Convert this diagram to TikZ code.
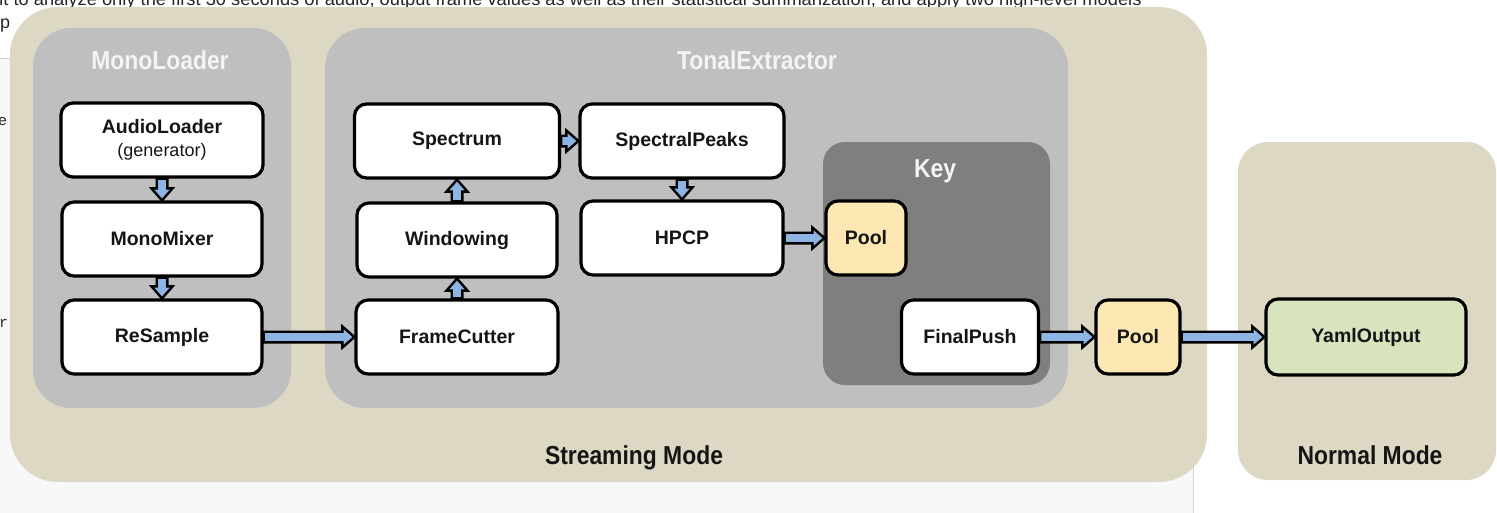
\documentclass[tikz,border=0pt]{standalone}
\usepackage{fontspec}
\setmainfont{Liberation Sans}
\setmonofont{Liberation Mono}
\newfontfamily\headfont[FakeStretch=0.88]{Liberation Sans}
\usetikzlibrary{calc}

\definecolor{modetan}{HTML}{DDD8C3}
\definecolor{groupgray}{HTML}{BFBFBF}
\definecolor{keygray}{HTML}{7F7F7F}
\definecolor{poolfill}{HTML}{FDE8B3}
\definecolor{outfill}{HTML}{D7E4BD}
\definecolor{flowblue}{HTML}{8EB4E3}
\definecolor{pagegray}{HTML}{F8F8F8}
\definecolor{pageline}{HTML}{D2D2D2}
\definecolor{inkdark}{HTML}{151515}
\definecolor{titlewhite}{HTML}{F4F4F4}

\begin{document}
\begin{tikzpicture}[x=1pt,y=-1pt,
  algo/.style={draw=black, line width=3.2pt, rounded corners=12pt, fill=white,
    font=\fontsize{19.5}{24}\selectfont\bfseries, text=inkdark, align=center,
    inner sep=0pt, minimum height=74pt},
  poolbox/.style={algo, fill=poolfill},
  outbox/.style={algo, fill=outfill},
  grouptitle/.style={anchor=base, inner sep=0pt, text=titlewhite,
    font=\headfont\fontsize{26}{29}\selectfont\bfseries},
  modetitle/.style={grouptitle, text=inkdark},
  flow/.style={draw=black, line width=2.4pt, fill=flowblue, line join=miter,
    to path={
      ($(\tikztotarget)!12pt!(\tikztostart)$) coordinate (flowbase)
      ($(\tikztostart)!5.3pt!90:(\tikztotarget)$)
      -- ($(flowbase)!5.3pt!-90:(\tikztostart)$)
      -- ($(flowbase)!10.5pt!-90:(\tikztostart)$)
      -- (\tikztotarget)
      -- ($(flowbase)!10.5pt!90:(\tikztostart)$)
      -- ($(flowbase)!5.3pt!90:(\tikztostart)$)
      -- ($(\tikztostart)!5.3pt!-90:(\tikztotarget)$)
      -- cycle}},
  pagetext/.style={inner sep=0pt, anchor=base west, text=black!85}
]
\useasboundingbox (0,0) rectangle (1497,512);
\fill[white] (0,0) rectangle (1497,512);

% page behind the figure
\node[pagetext, font=\fontsize{18.3}{22}\selectfont] (introline) at (-7,5)
  {nt to analyze only the first 30 seconds of audio, output frame values as well as their statistical summarization, and apply two high-level models};
\node[pagetext, font=\fontsize{18}{22}\selectfont] (introwrap) at (0,28.5) {p};
\filldraw[fill=pagegray, draw=pageline, line width=1pt] (-5,58) rectangle (1193,530);
\node[pagetext, font=\ttfamily\fontsize{15}{18}\selectfont] (codee) at (-2,125) {e};
\node[pagetext, font=\ttfamily\fontsize{15}{18}\selectfont] (coder) at (-1,327) {r};

% execution modes
\fill[modetan, rounded corners=48pt] (10,7) rectangle (1207,482);
\fill[modetan, rounded corners=30pt] (1238,142) rectangle (1496,480);

% composite algorithms
\fill[groupgray, rounded corners=38pt] (33,28) rectangle (291,408);
\fill[groupgray, rounded corners=40pt] (325,28) rectangle (1068,408);
\fill[keygray, rounded corners=22pt] (823,142) rectangle (1050,385);

\node[grouptitle] (monotitle) at (160,69) {MonoLoader};
\node[grouptitle] (tonaltitle) at (757,69) {TonalExtractor};
\node[grouptitle] (keytitle) at (935,177) {Key};
\node[modetitle] (streamtitle) at (634,464) {Streaming Mode};
\node[modetitle] (normaltitle) at (1370,464) {Normal Mode};

% MonoLoader chain
\node[algo, minimum width=202pt] (audioloader) at (162,140)
  {AudioLoader\\[-1pt]{\mdseries\fontsize{18}{22}\selectfont (generator)}};
\node[algo, minimum width=200pt] (monomixer) at (162,239) {MonoMixer};
\node[algo, minimum width=200pt] (resample) at (162,337) {ReSample};

% TonalExtractor chain
\node[algo, minimum width=202pt] (framecutter) at (457,337) {FrameCutter};
\node[algo, minimum width=200pt] (windowing) at (457,240) {Windowing};
\node[algo, minimum width=205pt] (spectrum) at (457,141) {Spectrum};
\node[algo, minimum width=204pt] (spectralpeaks) at (682,141) {SpectralPeaks};
\node[algo, minimum width=202pt] (hpcp) at (682,238) {HPCP};

% Key
\node[poolbox, minimum width=80pt] (keypool) at (866,238) {Pool};
\node[algo, minimum width=137pt] (finalpush) at (970,337) {FinalPush};

% output
\node[poolbox, minimum width=84pt] (outpool) at (1138,337) {Pool};
\node[outbox, minimum width=200pt, minimum height=76pt] (yamloutput) at (1366,337) {YamlOutput};

% data flow
\draw[flow] (audioloader.south) to (monomixer.north);
\draw[flow] (monomixer.south) to (resample.north);
\draw[flow] (resample.east) to (framecutter.west);
\draw[flow] (framecutter.north) to (windowing.south);
\draw[flow] (windowing.north) to (spectrum.south);
\draw[flow] (spectrum.east) to (spectralpeaks.west);
\draw[flow] (spectralpeaks.south) to (hpcp.north);
\draw[flow] (hpcp.east) to (keypool.west);
\draw[flow] (finalpush.east) to (outpool.west);
\draw[flow] (outpool.east) to (yamloutput.west);
\end{tikzpicture}
\end{document}
